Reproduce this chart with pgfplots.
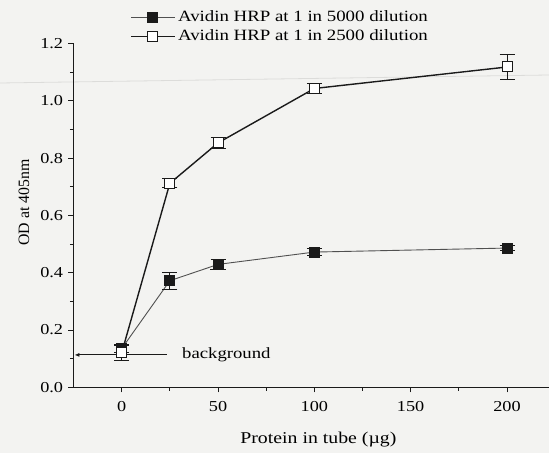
\documentclass[border=0pt]{standalone}
\usepackage{pgfplots}
\pgfplotsset{compat=1.18}
\usetikzlibrary{arrows.meta}
\usepackage{fontspec}
\setmainfont[FakeStretch=1.2]{Liberation Serif}
\newfontfamily\plainfont{Liberation Serif}
\definecolor{bg}{HTML}{F3F3F1}
\definecolor{scan}{HTML}{DCDCDA}
\definecolor{ln}{HTML}{1A1A1A}
\definecolor{lng}{HTML}{505050}
\begin{document}
\fontsize{15.6bp}{18bp}\selectfont
\begin{tikzpicture}
\fill[bg] (-73.5bp,-65.7bp) rectangle (475.5bp,387.3bp);
\draw[scan, line width=0.8pt] (-73.5bp,304.3bp) -- (475.5bp,312.3bp);
\begin{axis}[
  at={(0,0)}, anchor=south west,
  scale only axis, width=475.5bp, height=343.8bp,
  xmin=-25, xmax=221.8, ymin=0, ymax=1.2,
  axis lines=left, axis line style={-, line width=1pt, color=ln},
  xtick={0,50,100,150,200}, ytick={0,0.2,...,1.2},
  minor x tick num=1, minor y tick num=1,
  tick align=outside, major tick length=5bp, minor tick length=3.5bp,
  tick style={line width=0.9pt, color=ln},
  /pgf/number format/assume math mode=true,
  yticklabel style={/pgf/number format/fixed, /pgf/number format/fixed zerofill, /pgf/number format/precision=1},
  ticklabel style={font=\fontsize{15.2bp}{18bp}\selectfont},
  xticklabel style={yshift=-4bp},
  xlabel={Protein in tube (µg)}, ylabel={OD at 405nm},
  xlabel style={at={(axis description cs:0.515,0)}, anchor=base, yshift=-55.7bp, font=\fontsize{16.5bp}{19bp}\selectfont},
  ylabel style={at={(axis description cs:0,0.5375)}, anchor=center, yshift=49.5bp, font=\plainfont\fontsize{15.8bp}{18bp}\selectfont},
  clip=false,
  legend style={at={(54bp,381bp)}, anchor=north west, draw=none, fill=none,
    font=\fontsize{15.7bp}{18bp}\selectfont, row sep=2bp,
    legend cell align=left},
  legend image code/.code={
    \draw[#1,mark=none] (0bp,0bp) -- (44bp,0bp);
    \draw[#1,only marks] plot coordinates {(21bp,0bp)};
  },
]
\addplot[color=lng, line width=0.9pt, mark=square*, mark size=5bp,
  mark options={fill=ln, draw=ln, solid},
  error bars/.cd, y dir=both, y explicit,
  error bar style={line width=1pt, color=ln},
  error mark options={rotate=90, mark size=7.5bp, line width=1pt, color=ln}]
  coordinates {
  (0,0.135) +- (0,0.012)
  (25,0.372) +- (0,0.03)
  (50,0.429) +- (0,0.018)
  (100,0.472) +- (0,0.012)
  (200,0.486) +- (0,0.01)
  };
\addlegendentry{Avidin HRP at 1 in 5000 dilution}
\addplot[color=ln, line width=1.4pt, mark=square*, mark size=5bp,
  mark options={fill=white, draw=ln, line width=1pt, solid},
  error bars/.cd, y dir=both, y explicit,
  error bar style={line width=1pt, color=ln},
  error mark options={rotate=90, mark size=7.5bp, line width=1pt, color=ln}]
  coordinates {
  (0,0.12) +- (0,0.028)
  (25,0.712) +- (0,0.016)
  (50,0.853) +- (0,0.018)
  (100,1.043) +- (0,0.018)
  (200,1.118) +- (0,0.042)
  };
\addlegendentry{Avidin HRP at 1 in 2500 dilution}
\draw[line width=0.9pt, color=ln, -{Latex[length=5bp,width=4bp]}] (axis cs:23.5,0.113) -- (axis cs:-24.5,0.113);
\node[anchor=west, inner sep=0pt, font=\fontsize{15.6bp}{18bp}\selectfont] at (axis cs:31.3,0.113) {background};
\end{axis}
\pgfresetboundingbox
\path (-73.5bp,-65.7bp) rectangle (475.5bp,387.3bp);
\end{tikzpicture}
\end{document}
